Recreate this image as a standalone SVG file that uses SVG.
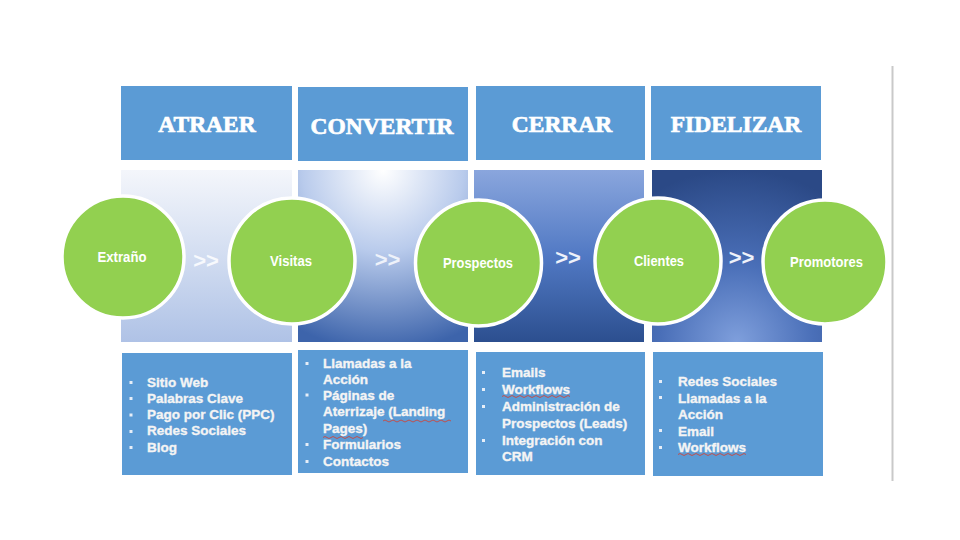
<svg xmlns="http://www.w3.org/2000/svg" width="960" height="540" viewBox="0 0 960 540">
<defs>
<style>
.hdr{fill:#5b9bd5}
.hdrt{font-family:"Liberation Serif",serif;font-weight:bold;font-size:23.5px;fill:#ffffff;stroke:#ffffff;stroke-width:0.7;text-anchor:middle}
.circ{fill:#92d050;stroke:#ffffff;stroke-width:3.5}
.ct{font-family:"Liberation Sans",Arial,sans-serif;font-weight:bold;font-size:15px;fill:#ffffff;text-anchor:middle}
.arr{font-family:"Liberation Sans",Arial,sans-serif;font-weight:bold;font-size:22px;fill:#eef2fa;text-anchor:middle}
.box{fill:#5b9bd5}
.bt{font-family:"Liberation Sans",Arial,sans-serif;font-weight:bold;font-size:13.5px;fill:#f4f4f4;stroke:#f4f4f4;stroke-width:0.35}
.bul{fill:#e6eef8}
.sq{fill:none;stroke:#c0504d;stroke-width:1}
</style>
<linearGradient id="g1" x1="0" y1="0" x2="0" y2="1">
<stop offset="0" stop-color="#f4f6fb"/>
<stop offset="0.5" stop-color="#d2ddf1"/>
<stop offset="1" stop-color="#afc2e6"/>
</linearGradient>
<radialGradient id="g2" cx="0.5" cy="0" r="1.05">
<stop offset="0" stop-color="#ffffff"/>
<stop offset="0.45" stop-color="#b9cbec"/>
<stop offset="1" stop-color="#3d64ab"/>
</radialGradient>
<linearGradient id="g3" x1="0" y1="0" x2="0" y2="1">
<stop offset="0" stop-color="#8aa6dd"/>
<stop offset="0.5" stop-color="#5179c4"/>
<stop offset="1" stop-color="#2c4f8f"/>
</linearGradient>
<radialGradient id="g4" cx="0.5" cy="1" r="1">
<stop offset="0" stop-color="#7f9fdc"/>
<stop offset="0.45" stop-color="#4a6fb8"/>
<stop offset="1" stop-color="#2b4986"/>
</radialGradient>
</defs>
<rect width="960" height="540" fill="#ffffff"/>
<line x1="892.5" y1="66" x2="892.5" y2="481" stroke="#c9c9c9" stroke-width="2"/>

<g id="header-atraer"><rect class="hdr" x="121" y="86" width="171" height="74"/><text class="hdrt" x="207" y="131.5">ATRAER</text></g>
<g id="header-convertir"><rect class="hdr" x="298" y="87" width="170" height="74"/><text class="hdrt" x="382" y="134">CONVERTIR</text></g>
<g id="header-cerrar"><rect class="hdr" x="476" y="86" width="169" height="74"/><text class="hdrt" x="562" y="132">CERRAR</text></g>
<g id="header-fidelizar"><rect class="hdr" x="651" y="86" width="170" height="74"/><text class="hdrt" x="736" y="132">FIDELIZAR</text></g>

<g id="panel-atraer"><rect x="121" y="170" width="171" height="172" fill="url(#g1)"/></g>
<g id="panel-convertir"><rect x="298" y="170" width="170" height="172" fill="url(#g2)"/></g>
<g id="panel-cerrar"><rect x="474" y="170" width="170" height="172" fill="url(#g3)"/></g>
<g id="panel-fidelizar"><rect x="652" y="170" width="170" height="172" fill="url(#g4)"/></g>

<g id="connectors">
<text class="arr" x="206" y="268" style="fill:#f7f9fd">&gt;&gt;</text>
<text class="arr" x="387.5" y="267">&gt;&gt;</text>
<text class="arr" x="568" y="265">&gt;&gt;</text>
<text class="arr" x="741.5" y="265">&gt;&gt;</text>
</g>

<g id="node-extrano"><circle class="circ" cx="123" cy="257" r="61"/><text class="ct" x="122" y="262" textLength="49" lengthAdjust="spacingAndGlyphs">Extraño</text></g>
<g id="node-visitas"><circle class="circ" cx="292" cy="261" r="63"/><text class="ct" x="291" y="266" textLength="42" lengthAdjust="spacingAndGlyphs">Visitas</text></g>
<g id="node-prospectos"><circle class="circ" cx="478.5" cy="263" r="63"/><text class="ct" x="478" y="268" textLength="70" lengthAdjust="spacingAndGlyphs">Prospectos</text></g>
<g id="node-clientes"><circle class="circ" cx="658" cy="261" r="63"/><text class="ct" x="659" y="266" textLength="50" lengthAdjust="spacingAndGlyphs">Clientes</text></g>
<g id="node-promotores"><circle class="circ" cx="825" cy="262" r="62"/><text class="ct" x="826.5" y="267" textLength="73" lengthAdjust="spacingAndGlyphs">Promotores</text></g>

<g id="list-atraer">
<rect class="box" x="122" y="353" width="170" height="122"/>
<rect class="bul" x="129.5" y="381" width="3" height="3"/>
<rect class="bul" x="129.5" y="397" width="3" height="3"/>
<rect class="bul" x="129.5" y="413.5" width="3" height="3"/>
<rect class="bul" x="129.5" y="430" width="3" height="3"/>
<rect class="bul" x="129.5" y="446" width="3" height="3"/>
<text class="bt" x="147" y="386.5">Sitio Web</text>
<text class="bt" x="147" y="402.8">Palabras Clave</text>
<text class="bt" x="147" y="419.1">Pago por Clic (PPC)</text>
<text class="bt" x="147" y="435.4">Redes Sociales</text>
<text class="bt" x="147" y="451.7">Blog</text>
</g>

<g id="list-convertir">
<rect class="box" x="298" y="350" width="170" height="123"/>
<rect class="bul" x="305.5" y="362" width="3" height="3"/>
<rect class="bul" x="305.5" y="393.5" width="3" height="3"/>
<rect class="bul" x="305.5" y="443" width="3" height="3"/>
<rect class="bul" x="305.5" y="460" width="3" height="3"/>
<text class="bt" x="323" y="368">Llamadas a la</text>
<text class="bt" x="323" y="383.5">Acción</text>
<text class="bt" x="323" y="399.5">Páginas de</text>
<text class="bt" x="323" y="416">Aterrizaje (Landing</text>
<text class="bt" x="323" y="432.5">Pages)</text>
<text class="bt" x="323" y="449">Formularios</text>
<text class="bt" x="323" y="465.5">Contactos</text>
<path class="sq" d="M383 421 q2 -2 4 0 t4 0 t4 0 t4 0 t4 0 t4 0 t4 0 t4 0 t4 0 t4 0 t4 0 t4 0 t4 0 t4 0 t4 0 t4 0 t4 0"/>
<path class="sq" d="M323 437.5 q2 -2 4 0 t4 0 t4 0 t4 0 t4 0 t4 0 t4 0 t4 0 t4 0 t4 0"/>
</g>

<g id="list-cerrar">
<rect class="box" x="476" y="352" width="169" height="123"/>
<rect class="bul" x="482" y="371" width="3" height="3"/>
<rect class="bul" x="482" y="388" width="3" height="3"/>
<rect class="bul" x="482" y="405" width="3" height="3"/>
<rect class="bul" x="482" y="439" width="3" height="3"/>
<text class="bt" x="502" y="377">Emails</text>
<text class="bt" x="502" y="394">Workflows</text>
<text class="bt" x="502" y="411">Administración de</text>
<text class="bt" x="502" y="428">Prospectos (Leads)</text>
<text class="bt" x="502" y="444.5">Integración con</text>
<text class="bt" x="502" y="461">CRM</text>
<path class="sq" d="M502 396.5 q2 -2 4 0 t4 0 t4 0 t4 0 t4 0 t4 0 t4 0 t4 0 t4 0 t4 0 t4 0 t4 0 t4 0 t4 0 t4 0 t4 0 t4 0"/>
</g>

<g id="list-fidelizar">
<rect class="box" x="653" y="352" width="170" height="124"/>
<rect class="bul" x="659" y="380" width="3" height="3"/>
<rect class="bul" x="659" y="396" width="3" height="3"/>
<rect class="bul" x="659" y="429" width="3" height="3"/>
<rect class="bul" x="659" y="446" width="3" height="3"/>
<text class="bt" x="678" y="386">Redes Sociales</text>
<text class="bt" x="678" y="402.5">Llamadas a la</text>
<text class="bt" x="678" y="419">Acción</text>
<text class="bt" x="678" y="435.5">Email</text>
<text class="bt" x="678" y="452">Workflows</text>
<path class="sq" d="M678 454.5 q2 -2 4 0 t4 0 t4 0 t4 0 t4 0 t4 0 t4 0 t4 0 t4 0 t4 0 t4 0 t4 0 t4 0 t4 0 t4 0 t4 0 t4 0"/>
</g>
</svg>
